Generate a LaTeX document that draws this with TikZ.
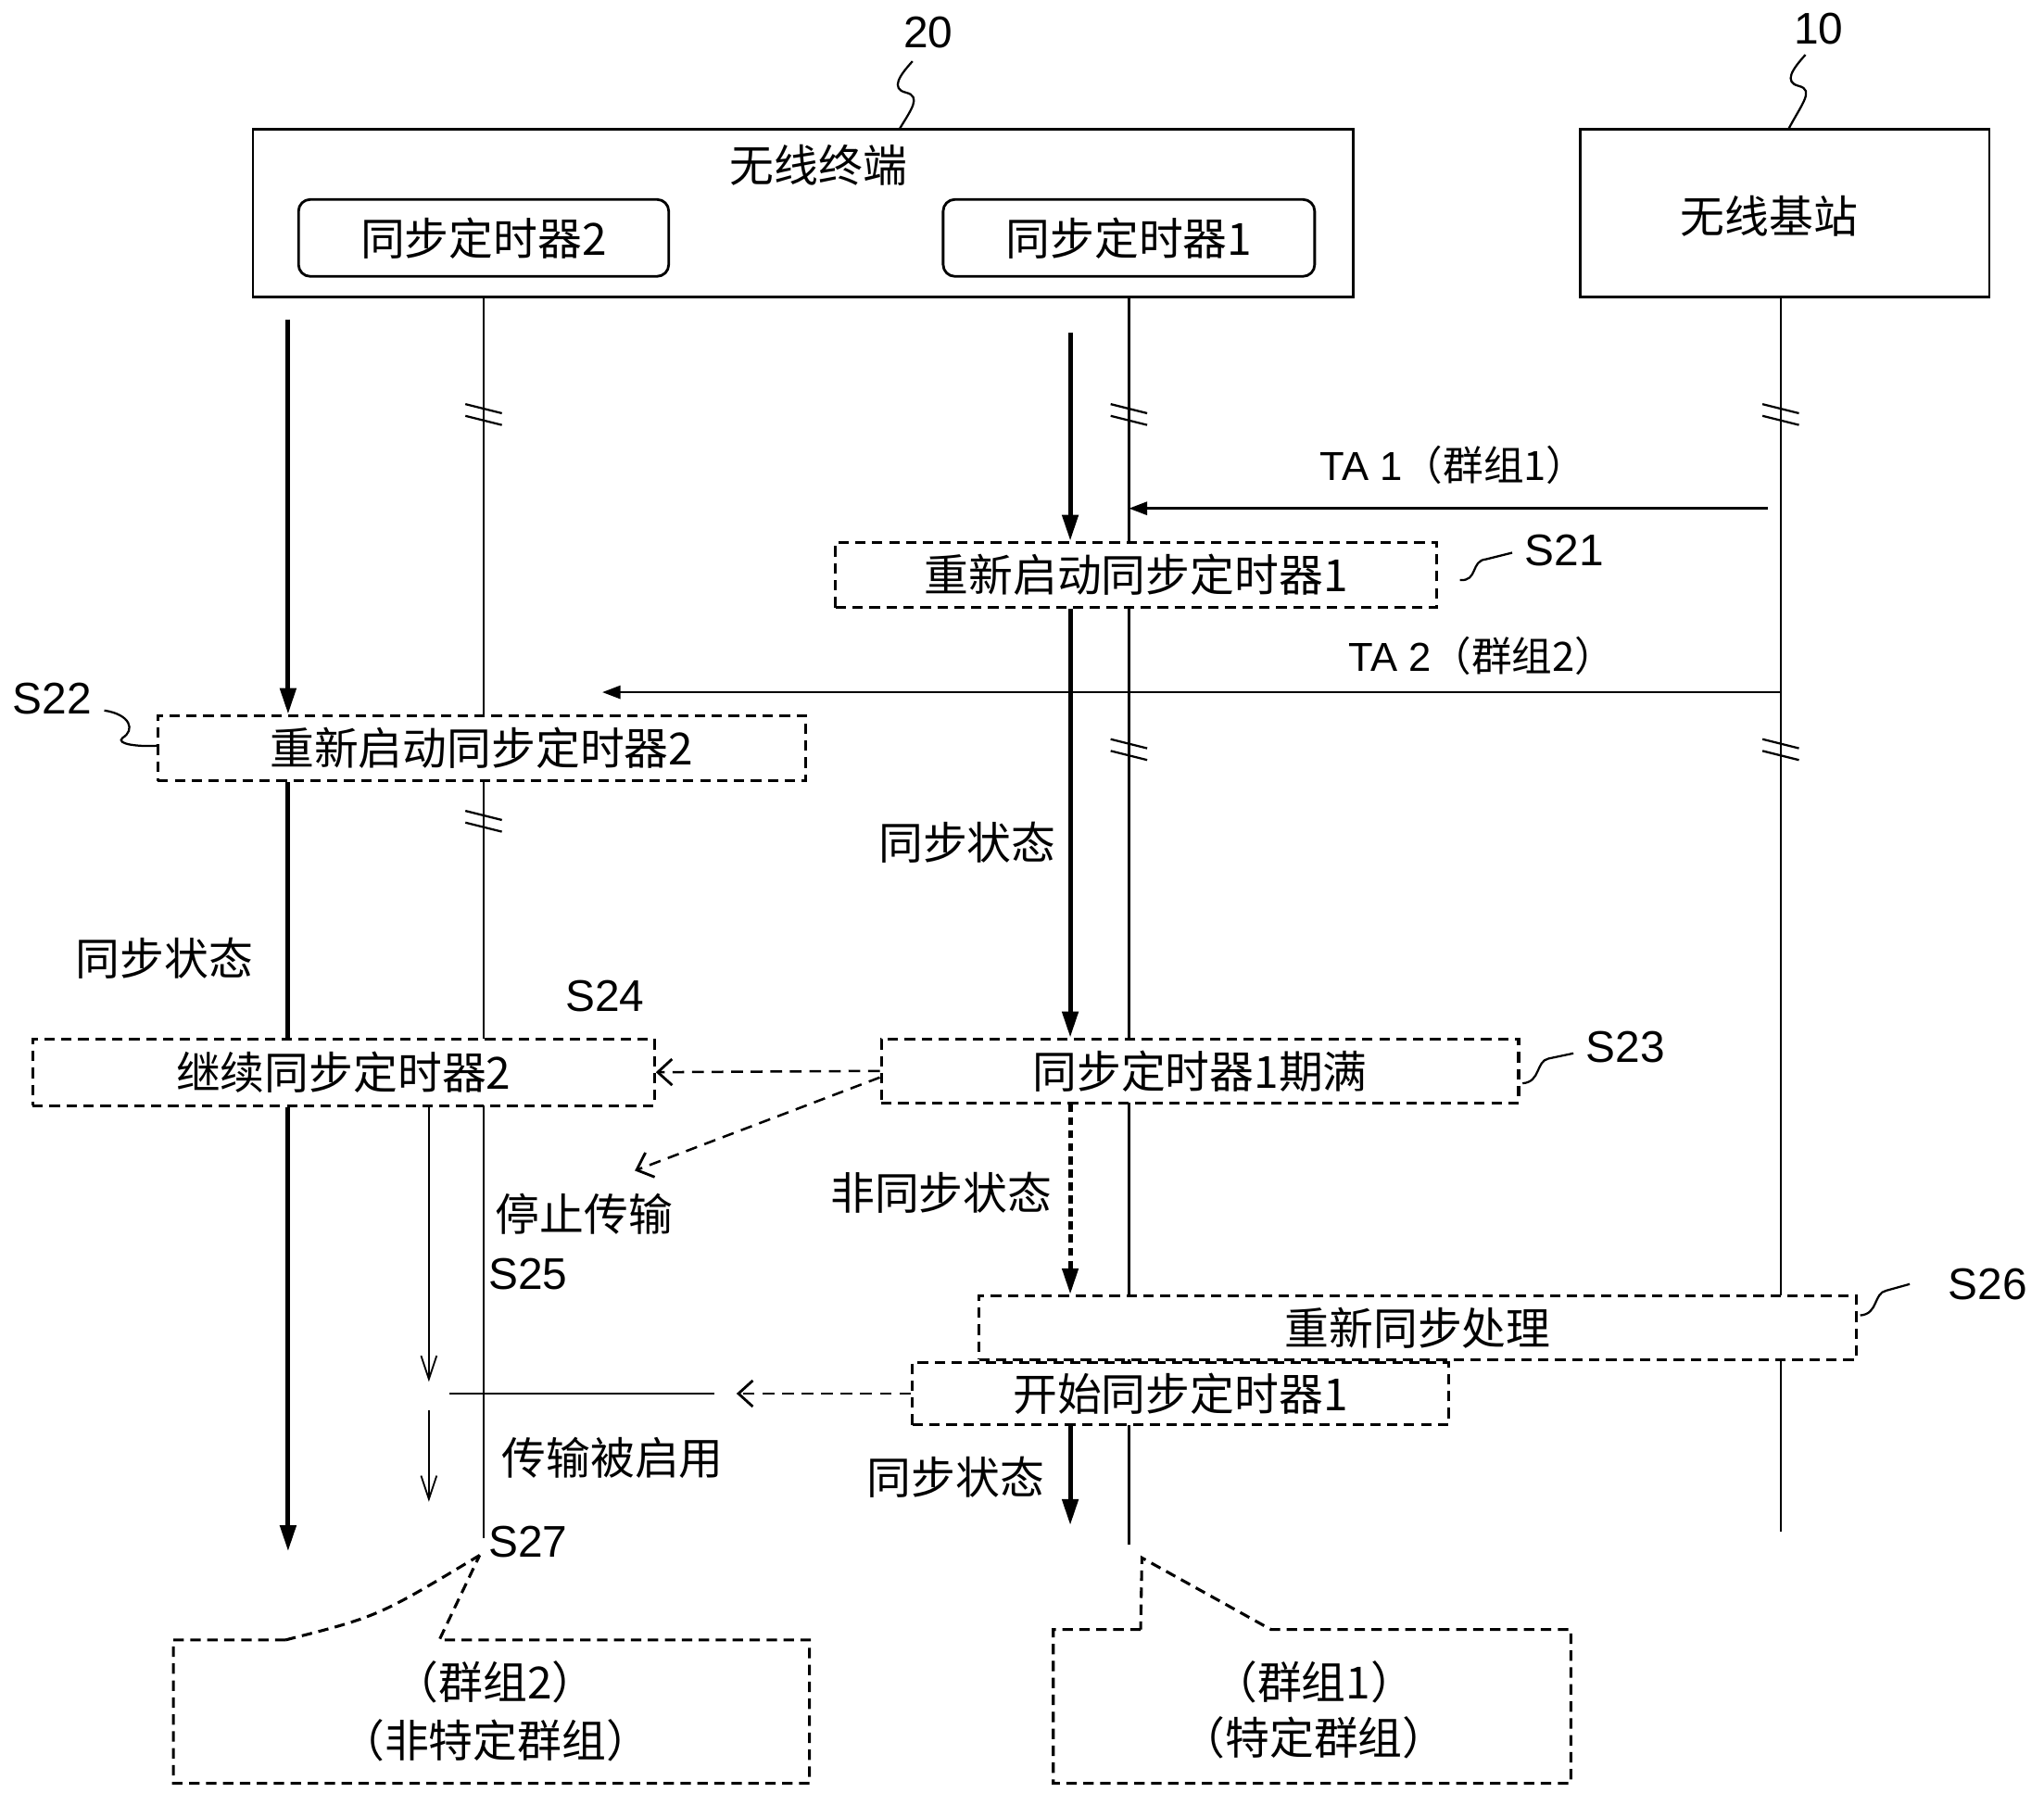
\documentclass[tikz,border=0pt]{standalone}
\usepackage{fontspec}
\setmainfont{Liberation Sans}
\newfontfamily\cjk{Noto Sans CJK SC}
\usetikzlibrary{arrows.meta}
\newcommand{\zh}{\cjk\fontsize{34}{40}\selectfont}
\newcommand{\lbl}{\fontsize{34}{40}\selectfont}
\newcommand{\sml}{\fontsize{31}{36}\selectfont}

\begin{document}
\begin{tikzpicture}[x=1pt,y=-1pt,
  box/.style={draw,line width=2pt,fill=white,font=\zh},
  tmr/.style={box,rounded corners=9pt},
  dbox/.style={draw,line width=2.2pt,dash pattern=on 8pt off 5pt,fill=white,font=\zh},
  life/.style={line width=1.6pt},
  thk/.style={line width=3.6pt,-{Triangle[length=20pt,width=12pt]}},
  msg/.style={line width=2pt,-{Triangle[length=14pt,width=10pt]}},
  dmsg/.style={line width=1.8pt,dash pattern=on 9pt off 6pt,-{Straight Barb[length=11pt,width=20pt,line width=2pt]}},
  tx/.style={line width=1.3pt,-{Straight Barb[length=18pt,width=12pt]}},
  brk/.style={line width=1.6pt},
  lead/.style={line width=1.6pt},
  call/.style={line width=2.2pt,dash pattern=on 8pt off 5pt}]
\tikzstyle{every node}+=[inner sep=0pt]
\useasboundingbox (0,0) rectangle (1568,1384);

% terminal and base station
\node[box,minimum width=844pt,minimum height=129pt] (term) at (616,163.5) {};
\node[font=\zh] (termtxt) at (628,127) {无线终端};
\node[tmr,minimum width=284pt,minimum height=59pt] (tm2) at (371,182.5) {同步定时器2};
\node[tmr,minimum width=285pt,minimum height=59pt] (tm1) at (866,182.5) {同步定时器1};
\node[box,minimum width=314pt,minimum height=129pt] (bs) at (1369,163.5) {};
\node[font=\zh] (bstxt) at (1357,166) {无线基站};
\node[font=\lbl] (n20) at (712,25) {20};
\node[font=\lbl] (n10) at (1395,22) {10};
\draw[lead] (700,47) .. controls (690,58) and (683,68) .. (695,71) .. controls (707,74) and (699,84) .. (690,99);
\draw[lead] (1385,42) .. controls (1375,53) and (1368,63) .. (1380,66) .. controls (1392,69) and (1382,80) .. (1372,99);

% lifelines
\coordinate (e2) at (371,1180);
\coordinate (e1) at (866,1185);
\coordinate (e0) at (1366,1175);
\draw[life] (tm2 |- term.south) -- (e2);
\draw[life] (tm1 |- term.south) -- (e1);
\draw[life] (e0 |- bs.south) -- (e0);
\foreach \x/\y in {371/318,866/318,1366/318,866/575,1366/575,371/630} {
  \draw[brk] (\x-14,\y-8) -- (\x+14,\y-1);
  \draw[brk] (\x-14,\y+1) -- (\x+14,\y+8);
}

% steps
\node[dbox,minimum width=461pt,minimum height=50pt] (s21) at (871.5,441) {重新启动同步定时器1};
\node[dbox,minimum width=497pt,minimum height=50pt] (s22) at (369.5,574) {重新启动同步定时器2};
\node[dbox,minimum width=477pt,minimum height=51pt] (s24) at (263.5,822.5) {继续同步定时器2};
\node[dbox,minimum width=489pt,minimum height=49pt] (s23) at (920.5,821.5) {同步定时器1期满};
\node[dbox,minimum width=673pt,minimum height=49pt] (s26) at (1087.5,1018.5) {重新同步处理};
\node[dbox,minimum width=411pt,minimum height=48pt] (s27) at (905.5,1069) {开始同步定时器1};

\node[font=\lbl] (l21) at (1200,422) {S21};
\node[font=\lbl] (l22) at (40,536) {S22};
\node[font=\lbl] (l23) at (1247,803) {S23};
\node[font=\lbl] (l24) at (464,764) {S24};
\node[font=\lbl] (l25) at (405,977) {S25};
\node[font=\lbl] (l26) at (1525,985) {S26};
\node[font=\lbl] (l27) at (405,1183) {S27};
\draw[lead] (1120,445) .. controls (1134,446) and (1128,430) .. (1140,429) -- (1160,424);
\draw[lead] (80,545) .. controls (100,548) and (104,560) .. (94,566) .. controls (88,571) and (108,573) .. (121,572);
\draw[lead] (1168,831) .. controls (1182,830) and (1178,814) .. (1188,812) -- (1207,808);
\draw[lead] (1427,1009) .. controls (1441,1008) and (1437,992) .. (1447,990) -- (1465,985);

% messages from base station
\coordinate (ta1) at (1356,390);
\coordinate (ta2) at (1366,531);
\coordinate (ta2e) at (462,531);
\draw[msg] (ta1) -- (tm1 |- ta1);
\draw[msg] (ta2) -- (ta2e);
\node[font=\sml] (ta1txt) at (1115,357) {TA 1{\cjk（群组1）}};
\node[font=\sml] (ta2txt) at (1137,503) {TA 2{\cjk（群组2）}};

% group 2 state
\coordinate (a2) at (221,245);
\coordinate (a2e) at (221,1190);
\draw[thk] (a2) -- (a2 |- s22.north);
\draw[line width=3.6pt] (a2 |- s22.south) -- (a2 |- s24.north);
\draw[thk] (a2 |- s24.south) -- (a2e);
\node[font=\zh] (sy2) at (126,735) {同步状态};

% group 1 state
\coordinate (a1) at (821,255);
\coordinate (a1e) at (821,1170);
\draw[thk] (a1) -- (a1 |- s21.north);
\draw[thk] (a1 |- s21.south) -- (a1 |- s23.north);
\draw[thk,dash pattern=on 6pt off 4pt] (a1 |- s23.south) -- (a1 |- s26.north);
\draw[thk] (a1 |- s27.south) -- (a1e);
\node[font=\zh] (sy1) at (742,646) {同步状态};
\node[font=\zh] (nsy1) at (722,915) {非同步状态};
\node[font=\zh] (sy1b) at (733,1133) {同步状态};

% transmission of group 2
\coordinate (stp) at (487,898);
\coordinate (en) at (565,1069);
\coordinate (enl) at (548,1069);
\coordinate (txh) at (345,1069);
\coordinate (tx1) at (329,1060);
\coordinate (tx2) at (329,1082);
\coordinate (tx3) at (329,1152);
\draw[dmsg] (s23.west) -- (s24.east);
\draw[dmsg] ([yshift=-5pt]s23.west) -- (stp);
\draw[dmsg] (s27.west) -- (en);
\draw[life] (enl) -- (txh);
\draw[tx] (tx1 |- s24.south) -- (tx1);
\draw[tx] (tx2) -- (tx3);
\node[font=\zh] (stoptxt) at (448,931) {停止传输};
\node[font=\zh] (entxt) at (470,1118) {传输被启用};

% group callouts
\draw[call] (219,1258) -- (133,1258) -- (133,1368) -- (621,1368) -- (621,1258) -- (337,1258) -- (368,1193);
\draw[call] (219,1258) .. controls (290,1240) .. (368,1193);
\node[font=\zh] (g2a) at (380,1290) {（群组2）};
\node[font=\zh] (g2b) at (380,1335) {（非特定群组）};
\draw[call] (875,1250) -- (808,1250) -- (808,1368) -- (1205,1368) -- (1205,1250) -- (975,1250) -- (876,1195) -- cycle;
\node[font=\zh] (g1a) at (1008,1290) {（群组1）};
\node[font=\zh] (g1b) at (1008,1333) {（特定群组）};
\end{tikzpicture}
\end{document}
